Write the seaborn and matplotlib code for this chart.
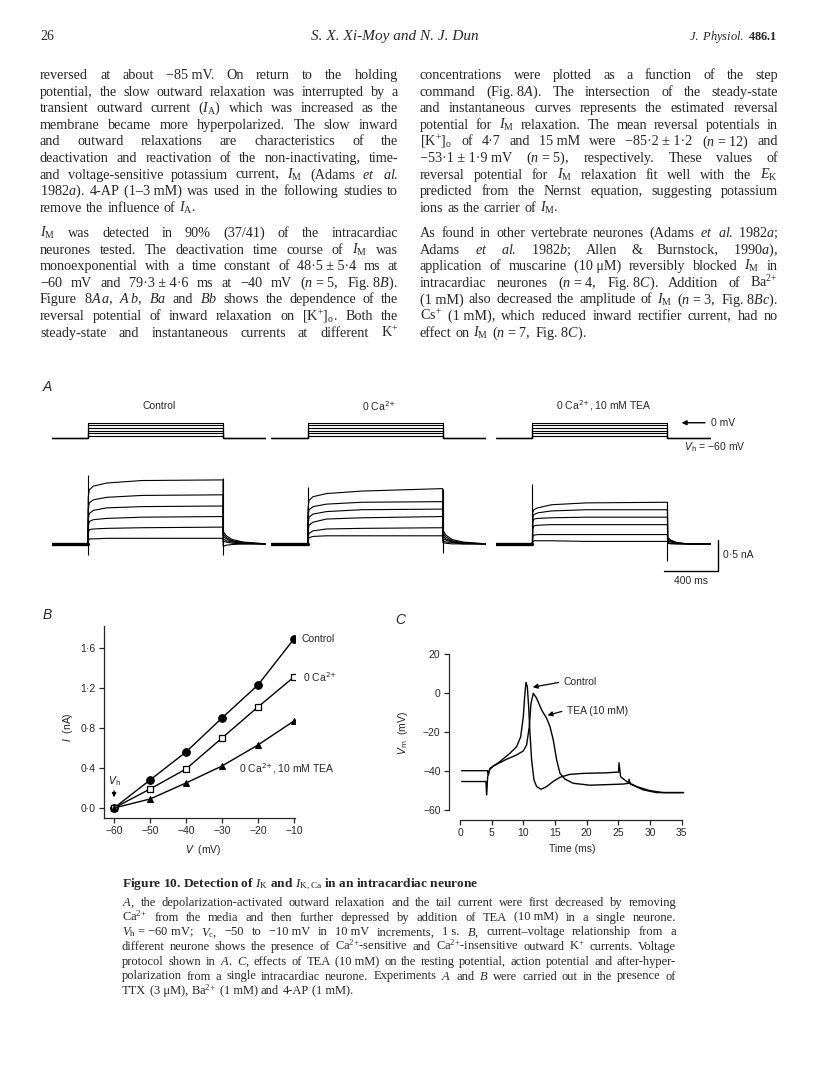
import numpy as np
import pandas as pd
import matplotlib
matplotlib.use("Agg")
import matplotlib.pyplot as plt
import seaborn as sns

sns.set_style("ticks")
plt.rcParams["font.family"] = ["Liberation Sans", "DejaVu Sans"]
plt.rcParams["mathtext.fontset"] = "custom"
plt.rcParams["mathtext.rm"] = "Liberation Serif"
plt.rcParams["mathtext.it"] = "Liberation Serif:italic"
plt.rcParams["mathtext.bf"] = "Liberation Serif:bold"

W, H = 816, 1088
SERIF = ["Liberation Serif", "DejaVu Serif"]
MSANS = "dejavusans"

# ---------------- panel B : I-V relationship ----------------
iv_v = [-60, -50, -40, -30, -20, -10]
iv_control = [0.0, 0.28, 0.56, 0.90, 1.23, 1.69]
iv_zero_ca = [0.0, 0.19, 0.39, 0.70, 1.01, 1.31]
iv_tea = [0.0, 0.09, 0.25, 0.42, 0.63, 0.87]

# ---------------- panel C : action potentials ----------------
ap_ctrl_t = [0.26, 4.31, 4.47, 4.74, 6.31, 7.89, 8.95, 9.58, 10.0, 10.21, 10.42, 10.63,
             10.84, 11.05, 11.31, 11.68, 12.1, 12.79, 13.68, 14.73, 15.79, 17.36, 19.47,
             23.15, 25.05, 25.1, 25.36, 26.31, 27.89, 29.99, 32.1, 35.3]
ap_ctrl_v = [-39.9, -39.9, -42.1, -38.7, -35.2, -30.9, -27.5, -22.4, -12.0, -1.7, 5.6, 3.4,
             -6.9, -20.6, -34.4, -44.7, -48.1, -49.5, -48.1, -45.4, -43.3, -41.8, -41.3,
             -41.0, -40.6, -35.8, -43.0, -45.5, -48.1, -50.2, -51.2, -51.2]
ap_tea_t = [0.26, 4.1, 4.21, 4.37, 4.63, 5.26, 7.37, 8.95, 10.0, 10.52, 10.94, 11.21, 11.58,
            12.1, 12.89, 13.68, 14.21, 14.73, 15.26, 15.79, 16.58, 17.89, 20.52, 25.78,
            26.63, 26.7, 26.9, 28.94, 31.0, 35.3]
ap_tea_v = [-45.5, -45.5, -52.4, -43.0, -39.5, -37.5, -34.0, -31.8, -29.7, -26.6, -17.2, -5.2,
            0.0, -2.6, -8.6, -12.9, -17.2, -24.1, -34.4, -41.3, -44.3, -46.4, -47.4, -46.8,
            -46.4, -44.3, -46.8, -49.8, -51.2, -51.2]

# ---------------- panel A : voltage-clamp traces ----------------
hold_mv = -60
step_mv = [-50, -40, -30, -20, -10, 0]
pre_ms, step_ms, post_ms = 270, 1000, 320
on_t = [2, 10, 40, 140, 400, 1000]      # ms after step onset
off_t = [2, 25, 70, 150, 320]           # ms after step end

ctrl_on = [[0.75, 0.87, 0.93, 0.98, 1.02, 1.03],
           [0.55, 0.66, 0.71, 0.75, 0.78, 0.79],
           [0.40, 0.49, 0.54, 0.58, 0.60, 0.61],
           [0.28, 0.36, 0.39, 0.41, 0.43, 0.44],
           [0.17, 0.23, 0.24, 0.25, 0.26, 0.27],
           [0.06, 0.08, 0.08, 0.09, 0.09, 0.09]]
ctrl_off = [[0.20, 0.13, 0.07, 0.03, 0.0],
            [0.16, 0.10, 0.05, 0.02, 0.0],
            [0.12, 0.08, 0.04, 0.01, 0.0],
            [0.08, 0.05, 0.03, 0.01, 0.0],
            [0.04, 0.03, 0.01, 0.0, 0.0],
            [-0.04, -0.02, -0.01, 0.0, 0.0]]
zca_on = [[0.55, 0.70, 0.76, 0.81, 0.85, 0.89],
          [0.42, 0.55, 0.60, 0.64, 0.67, 0.68],
          [0.30, 0.43, 0.48, 0.52, 0.55, 0.56],
          [0.20, 0.30, 0.35, 0.40, 0.42, 0.44],
          [0.10, 0.17, 0.21, 0.24, 0.25, 0.26],
          [0.05, 0.10, 0.12, 0.13, 0.13, 0.13]]
zca_off = [[0.22, 0.14, 0.07, 0.03, 0.0],
           [0.17, 0.11, 0.05, 0.02, 0.0],
           [0.13, 0.08, 0.04, 0.01, 0.0],
           [0.09, 0.06, 0.03, 0.01, 0.0],
           [0.05, 0.03, 0.02, 0.0, 0.0],
           [0.02, 0.01, 0.0, 0.0, 0.0]]
tea_on = [[0.50, 0.55, 0.58, 0.63, 0.66, 0.67],
          [0.42, 0.47, 0.50, 0.53, 0.55, 0.55],
          [0.34, 0.40, 0.41, 0.42, 0.43, 0.43],
          [0.24, 0.29, 0.30, 0.31, 0.31, 0.31],
          [0.11, 0.14, 0.15, 0.15, 0.15, 0.15],
          [0.03, 0.05, 0.05, 0.05, 0.04, 0.04]]
tea_off = [[0.10, 0.06, 0.02, 0.0, 0.0],
           [0.08, 0.05, 0.02, 0.0, 0.0],
           [0.06, 0.04, 0.01, 0.0, 0.0],
           [0.04, 0.03, 0.01, 0.0, 0.0],
           [0.02, 0.01, 0.0, 0.0, 0.0],
           [0.01, 0.0, 0.0, 0.0, 0.0]]
# capacitive transients: onset (high, low), offset (high, low), nA
ctrl_tr = [1.11, -0.18, 1.06, -0.18]
zca_tr = [0.92, 0.0, 0.89, -0.14]
tea_tr = [0.96, 0.0, 0.67, -0.28]

panel_titles = ["Control", "0 Ca$^{2{+}}$", "0 Ca$^{2{+}}$, 10 mM TEA"]
panel_left_px = [51.5, 271.2, 496]


def px(x, y):
    return x / W, 1 - y / H


def trace_frame(on_vals, off_vals):
    parts = []
    for k, (on, off) in enumerate(zip(on_vals, off_vals)):
        t = [0] + on_t + [step_ms + x for x in off_t]
        i = [0] + on + off
        parts.append(pd.DataFrame({"trace": k, "t": t, "i": i}))
    return pd.concat(parts, ignore_index=True)


fig = plt.figure(figsize=(W / 100, H / 100), dpi=100)
renderer = fig.canvas.get_renderer()

# ---------------- panel A ----------------
ms_px = 0.135
aw = (pre_ms + step_ms + post_ms) * ms_px
sets = [(ctrl_on, ctrl_off, ctrl_tr), (zca_on, zca_off, zca_tr), (tea_on, tea_off, tea_tr)]
for j, (on_vals, off_vals, tr) in enumerate(sets):
    left = panel_left_px[j]
    # voltage protocol
    axp = fig.add_axes([left / W, 1 - 445 / H, aw / W, 30 / H])
    for lvl in step_mv:
        sns.lineplot(x=[-pre_ms, 0, 0, step_ms, step_ms, step_ms + post_ms],
                     y=[hold_mv, hold_mv, lvl, lvl, hold_mv, hold_mv],
                     sort=False, estimator=None, color="k", lw=0.8, ax=axp)
    axp.set_xlim(-pre_ms, step_ms + post_ms)
    axp.set_ylim(-86, 30)
    axp.axis("off")
    axp.text(0.5, 1.3, panel_titles[j], transform=axp.transAxes, ha="center", va="center",
             fontsize=7.5, math_fontfamily=MSANS)
    # currents
    axc = fig.add_axes([left / W, 1 - 565 / H, aw / W, 100 / H])
    df = trace_frame(on_vals, off_vals)
    sns.lineplot(data=df, x="t", y="i", units="trace", estimator=None, sort=False,
                 color="k", lw=0.8, ax=axc, legend=False)
    sns.lineplot(x=[-pre_ms, 0], y=[0, 0], color="k", lw=2.4, ax=axc)
    axc.vlines([0, step_ms], [tr[1], tr[3]], [tr[0], tr[2]], color="k", lw=0.8)
    axc.set_xlim(-pre_ms, step_ms + post_ms)
    axc.set_ylim(-0.34, 1.27)
    axc.axis("off")
    if j == 2:
        # 0 mV marker and holding potential
        axp.annotate("", xy=(1084, 0), xytext=(1299, 0), annotation_clip=False,
                     arrowprops=dict(arrowstyle="-|>", color="k", lw=1.0, mutation_scale=7))
        axp.text(1321, 0, "0 mV", ha="left", va="center", fontsize=7.5, clip_on=False)
        axp.text(1122, -93.5, "$V_\\mathrm{h}$ = \u221260 mV", ha="left", va="center",
                 fontsize=7.5, clip_on=False, math_fontfamily=MSANS)
        # scale bar
        bar_ms, bar_na, bx, by = 400, 0.5, 1374, -0.435
        axc.plot([bx - bar_ms, bx, bx], [by, by, by + bar_na], color="k", lw=1.0, clip_on=False)
        axc.text(bx + 37, by + bar_na / 2, "0\u00b75 nA", ha="left", va="center", fontsize=7.5)
        axc.text(bx - bar_ms / 2, by - 0.17, "400 ms", ha="center", va="center", fontsize=7.5)

fig.text(*px(47, 387), "A", fontsize=10, style="italic", ha="center", va="center")

# ---------------- panel B ----------------
axB = fig.add_axes([104 / W, 1 - 818 / H, 191 / W, 192 / H])
sns.lineplot(x=iv_v, y=iv_control, ax=axB, color="k", lw=1, marker="o", ms=5.5, mec="k", mfc="k")
sns.lineplot(x=iv_v, y=iv_zero_ca, ax=axB, color="k", lw=1, marker="s", ms=4.2, mec="k",
             mfc="white", mew=0.9)
sns.lineplot(x=iv_v, y=iv_tea, ax=axB, color="k", lw=1, marker="^", ms=4.5, mec="k", mfc="k")
axB.set_xlim(-62.8, -9.7)
axB.set_ylim(-0.1, 1.82)
axB.set_xticks(iv_v)
axB.set_xticklabels(["\u221260", "\u221250", "\u221240", "\u221230", "\u221220", "\u221210"])
axB.set_yticks([0, 0.4, 0.8, 1.2, 1.6])
axB.set_yticklabels(["0\u00b70", "0\u00b74", "0\u00b78", "1\u00b72", "1\u00b76"])
sns.despine(ax=axB)
axB.text(0.518, -0.167, "$V$  (mV)", transform=axB.transAxes, ha="center", va="center",
         fontsize=7.5, math_fontfamily=MSANS)
axB.text(-0.188, 0.474, "$I$  (nA)", transform=axB.transAxes, ha="center", va="center",
         rotation=90, fontsize=7.5, math_fontfamily=MSANS)
axB.text(-7.8, 1.69, "Control", ha="left", va="center", fontsize=7.5)
axB.text(-7.5, 1.31, "0 Ca$^{2{+}}$", ha="left", va="center", fontsize=7.5, math_fontfamily=MSANS)
axB.text(-25.3, 0.39, "0 Ca$^{2{+}}$, 10 mM TEA", ha="left", va="center", fontsize=7.5,
         math_fontfamily=MSANS)
axB.text(-60, 0.27, "$V_\\mathrm{h}$", ha="center", va="center", fontsize=7.5, math_fontfamily=MSANS)
axB.annotate("", xy=(-60, 0.08), xytext=(-60, 0.2),
             arrowprops=dict(arrowstyle="-|>", color="k", lw=0.9, mutation_scale=6))
fig.text(*px(47, 615), "B", fontsize=10, style="italic", ha="center", va="center")

# ---------------- panel C ----------------
axC = fig.add_axes([460 / W, 1 - 811.6 / H, 228 / W, 158.1 / H])
sns.lineplot(x=ap_ctrl_t, y=ap_ctrl_v, ax=axC, color="k", lw=1, sort=False, estimator=None)
sns.lineplot(x=ap_tea_t, y=ap_tea_v, ax=axC, color="k", lw=1, sort=False, estimator=None)
axC.set_xlim(0, 36)
axC.set_ylim(-61, 20.5)
axC.set_xticks(range(0, 36, 5))
axC.set_yticks([-60, -40, -20, 0, 20])
axC.set_yticklabels(["\u221260", "\u221240", "\u221220", "0", "20"])
sns.despine(ax=axC, offset={"left": 8, "bottom": 6}, trim=True)
axC.text(16.4, 5.8, "Control", ha="left", va="center", fontsize=7.5)
axC.annotate("", xy=(11.05, 2.9), xytext=(16.0, 5.8),
             arrowprops=dict(arrowstyle="-|>", color="k", lw=0.9, mutation_scale=7))
axC.text(16.9, -9.0, "TEA (10 mM)", ha="left", va="center", fontsize=7.5)
axC.annotate("", xy=(13.4, -11.7), xytext=(16.5, -9.0),
             arrowprops=dict(arrowstyle="-|>", color="k", lw=0.9, mutation_scale=7))
fig.text(*px(572, 849), "Time (ms)", ha="center", va="center", fontsize=7.5)
fig.text(*px(403, 733), "$V_\\mathrm{m}$  (mV)", ha="center", va="center", rotation=90,
         fontsize=7.5, math_fontfamily=MSANS)
fig.text(*px(400, 620), "C", fontsize=10, style="italic", ha="center", va="center")

for ax in (axB, axC):
    ax.tick_params(direction="out", length=3.5, width=0.9, labelsize=7.5, pad=2.5)
    for s in ax.spines.values():
        s.set_linewidth(0.9)
    ax.set_xlabel("")
    ax.set_ylabel("")

# ---------------- page text ----------------
def put_line(s, x0, x1, y, size, last=False, **kw):
    words = s.split(" ")
    arts = [fig.text(x0 / W, 1 - y / H, w, fontsize=size, va="baseline", family=SERIF, **kw)
            for w in words]
    ws = [a.get_window_extent(renderer).width for a in arts]
    space = size * 0.27 * 100 / 72
    if last or len(words) == 1:
        gap = space
    else:
        gap = (x1 - x0 - sum(ws)) / (len(words) - 1)
    x = x0
    for a, w in zip(arts, ws):
        a.set_x(x / W)
        x += w + gap


def put_par(lines, x0, x1, y0, pitch, size, ends_par=True):
    for k, s in enumerate(lines):
        put_line(s, x0, x1, y0 + k * pitch, size, last=(ends_par and k == len(lines) - 1))


left_p1 = [
    "reversed at about \u221285\u00a0mV. On return to the holding",
    "potential, the slow outward relaxation was interrupted by a",
    "transient outward current ($I_\\mathrm{A}$) which was increased as the",
    "membrane became more hyperpolarized. The slow inward",
    "and outward relaxations are characteristics of the",
    "deactivation and reactivation of the non-inactivating, time-",
    "and voltage-sensitive potassium current, $I_\\mathrm{M}$ (Adams $\\mathit{et}$ $\\mathit{al.}$",
    "1982$\\mathit{a}$). 4-AP (1\u20133\u00a0mM) was used in the following studies to",
    "remove the influence of $I_\\mathrm{A}$.",
]
left_p2 = [
    "$I_\\mathrm{M}$ was detected in 90% (37/41) of the intracardiac",
    "neurones tested. The deactivation time course of $I_\\mathrm{M}$ was",
    "monoexponential with a time constant of 48\u00b75\u00a0\u00b1\u00a05\u00b74 ms at",
    "\u221260 mV and 79\u00b73\u00a0\u00b1\u00a04\u00b76 ms at \u221240 mV ($\\mathit{n}$\u00a0=\u00a05, Fig.\u00a08$\\mathit{B}$).",
    "Figure 8$\\mathit{A\\,a}$, $\\mathit{A\\,b}$, $\\mathit{Ba}$ and $\\mathit{Bb}$ shows the dependence of the",
    "reversal potential of inward relaxation on [K${}^{{+}}$]${}_\\mathrm{o}$. Both the",
    "steady-state and instantaneous currents at different K${}^{{+}}$",
]
right_p1 = [
    "concentrations were plotted as a function of the step",
    "command (Fig.\u00a08$\\mathit{A}$). The intersection of the steady-state",
    "and instantaneous curves represents the estimated reversal",
    "potential for $I_\\mathrm{M}$ relaxation. The mean reversal potentials in",
    "[K${}^{{+}}$]${}_\\mathrm{o}$ of 4\u00b77 and 15\u00a0mM were \u221285\u00b72\u00a0\u00b1\u00a01\u00b72 ($\\mathit{n}$\u00a0=\u00a012) and",
    "\u221253\u00b71\u00a0\u00b1\u00a01\u00b79\u00a0mV ($\\mathit{n}$\u00a0=\u00a05), respectively. These values of",
    "reversal potential for $I_\\mathrm{M}$ relaxation fit well with the $E_\\mathrm{K}$",
    "predicted from the Nernst equation, suggesting potassium",
    "ions as the carrier of $I_\\mathrm{M}$.",
]
right_p2 = [
    "As found in other vertebrate neurones (Adams $\\mathit{et}$ $\\mathit{al.}$\u00a01982$\\mathit{a}$;",
    "Adams $\\mathit{et}$ $\\mathit{al.}$ 1982$\\mathit{b}$; Allen & Burnstock, 1990$\\mathit{a}$),",
    "application of muscarine (10\u00a0\u03bcM) reversibly blocked $I_\\mathrm{M}$ in",
    "intracardiac neurones ($\\mathit{n}$\u00a0=\u00a04, Fig.\u00a08$\\mathit{C}$). Addition of Ba${}^{2{+}}$",
    "(1\u00a0mM) also decreased the amplitude of $I_\\mathrm{M}$ ($\\mathit{n}$\u00a0=\u00a03, Fig.\u00a08$\\mathit{Bc}$).",
    "Cs${}^{{+}}$ (1\u00a0mM), which reduced inward rectifier current, had no",
    "effect on $I_\\mathrm{M}$ ($\\mathit{n}$\u00a0=\u00a07, Fig.\u00a08$\\mathit{C}$).",
]
caption = [
    "$\\mathit{A}$, the depolarization-activated outward relaxation and the tail current were first decreased by removing",
    "Ca${}^{2{+}}$ from the media and then further depressed by addition of TEA (10\u00a0mM) in a single neurone.",
    "$V_\\mathrm{h}$\u00a0=\u00a0\u221260\u00a0mV; $V_\\mathrm{c}$, \u221250 to \u221210\u00a0mV in 10\u00a0mV increments, 1\u00a0s. $\\mathit{B}$, current\u2013voltage relationship from a",
    "different neurone shows the presence of Ca${}^{2{+}}$-sensitive and Ca${}^{2{+}}$-insensitive outward K${}^{{+}}$ currents. Voltage",
    "protocol shown in $\\mathit{A}$. $\\mathit{C}$, effects of TEA (10\u00a0mM) on the resting potential, action potential and after-hyper-",
    "polarization from a single intracardiac neurone. Experiments $\\mathit{A}$ and $\\mathit{B}$ were carried out in the presence of",
    "TTX (3\u00a0\u03bcM), Ba${}^{2{+}}$ (1\u00a0mM) and 4-AP (1\u00a0mM).",
]

body_size, pitch = 10.2, 16.6
put_par(left_p1, 40, 398, 79, pitch, body_size)
put_par(left_p2, 40, 398, 237, pitch, body_size, ends_par=False)
put_par(right_p1, 420, 778, 79, pitch, body_size)
put_par(right_p2, 420, 778, 237, pitch, body_size)

fig.text(*px(122, 887), "Figure 10. Detection of $I_\\mathrm{K}$ and $I_\\mathrm{K,Ca}$ in an intracardiac neurone",
         fontsize=9.6, weight="bold", family=SERIF, va="baseline")
put_par(caption, 122, 676, 906, 14.7, 9.0)

# running head
fig.text(*px(40, 40), "26", fontsize=10, family=SERIF, va="baseline")
fig.text(*px(395, 40), "S. X. Xi-Moy and N. J. Dun", fontsize=11, family=SERIF, style="italic",
         ha="center", va="baseline")
fig.text(*px(778, 40), "$\\mathit{J.\\ Physiol.}$\u00a0$\\mathbf{486.1}$", fontsize=9, family=SERIF,
         ha="right", va="baseline")

fig.savefig("out.png", dpi=100)
